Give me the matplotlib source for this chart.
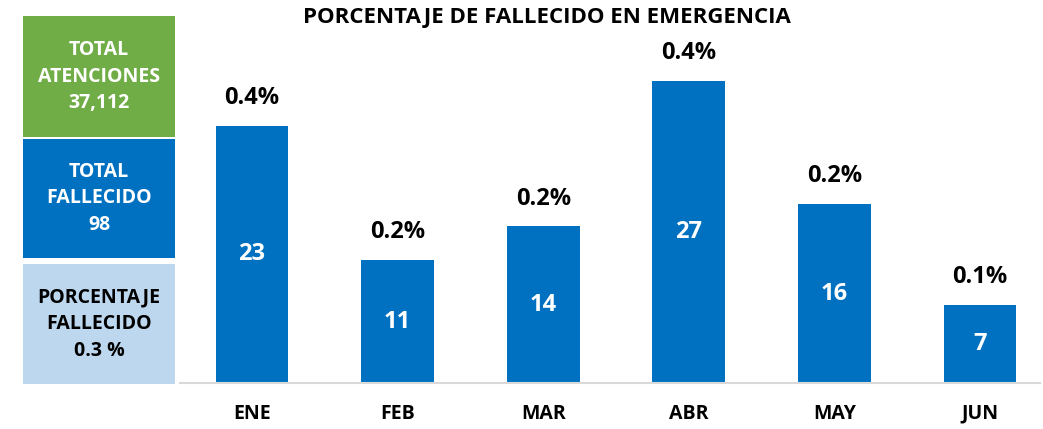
import matplotlib.pyplot as plt
from matplotlib.patches import Rectangle
import numpy as np

plt.rcParams["font.family"] = ["Open Sans", "DejaVu Sans"]

# Data
months = ["ENE", "FEB", "MAR", "ABR", "MAY", "JUN"]
fallecidos = [23, 11, 14, 27, 16, 7]
porcentajes = ["0.4%", "0.2%", "0.2%", "0.4%", "0.2%", "0.1%"]
total_atenciones = "37,112"
total_fallecido = "98"
porcentaje_total = "0.3 %"

W, H = 1043, 429
fig = plt.figure(figsize=(W / 100, H / 100), dpi=100)

# main chart axes (pixel-based placement)
left, right, top, bottom = 180, 1040, 30, 383
ax = fig.add_axes([left / W, 1 - bottom / H, (right - left) / W, (bottom - top) / H])

x = np.arange(len(months))
bars = ax.bar(x, fallecidos, width=0.5, color="#0070C0")

step = 145.6
ax.set_xlim(-(252 - left) / step, 5 + (right - 980) / step)
ax.set_ylim(0, (bottom - top) / 11.18)

for spine in ["top", "right", "left"]:
    ax.spines[spine].set_visible(False)
ax.spines["bottom"].set_color("#d9d9d9")
ax.spines["bottom"].set_linewidth(1.5)
ax.set_yticks([])
ax.set_xticks(x)
ax.set_xticklabels(months, fontsize=14, fontweight="bold")
ax.tick_params(axis="x", length=0, pad=15)

for b, v, p in zip(bars, fallecidos, porcentajes):
    cx = b.get_x() + b.get_width() / 2
    ax.text(cx, v / 2, str(v), ha="center", va="center", color="white",
            fontsize=17, fontweight="bold")
    ax.text(cx, v + 1.4, p, ha="center", va="bottom", color="black",
            fontsize=17, fontweight="bold")

fig.text(547 / W, 1 - 17 / H, "PORCENTAJE DE FALLECIDO EN EMERGENCIA",
         ha="center", va="center", fontsize=16, fontweight="bold")

# summary boxes on the left
boxes = [
    (16, 137, "#70AD47", "white", "TOTAL\nATENCIONES\n" + total_atenciones),
    (139, 258, "#0070C0", "white", "TOTAL\nFALLECIDO\n" + total_fallecido),
    (264, 384, "#BDD7EE", "black", "PORCENTAJE\nFALLECIDO\n" + porcentaje_total),
]
for y0, y1, fc, tc, label in boxes:
    fig.patches.append(Rectangle((23 / W, 1 - y1 / H), 152 / W, (y1 - y0) / H,
                                 transform=fig.transFigure, facecolor=fc,
                                 edgecolor="none"))
    fig.text(99 / W, 1 - (y0 + y1) / 2 / H, label, ha="center", va="center",
             color=tc, fontsize=14, fontweight="bold", linespacing=1.45)

fig.savefig("out.png", dpi=100)
